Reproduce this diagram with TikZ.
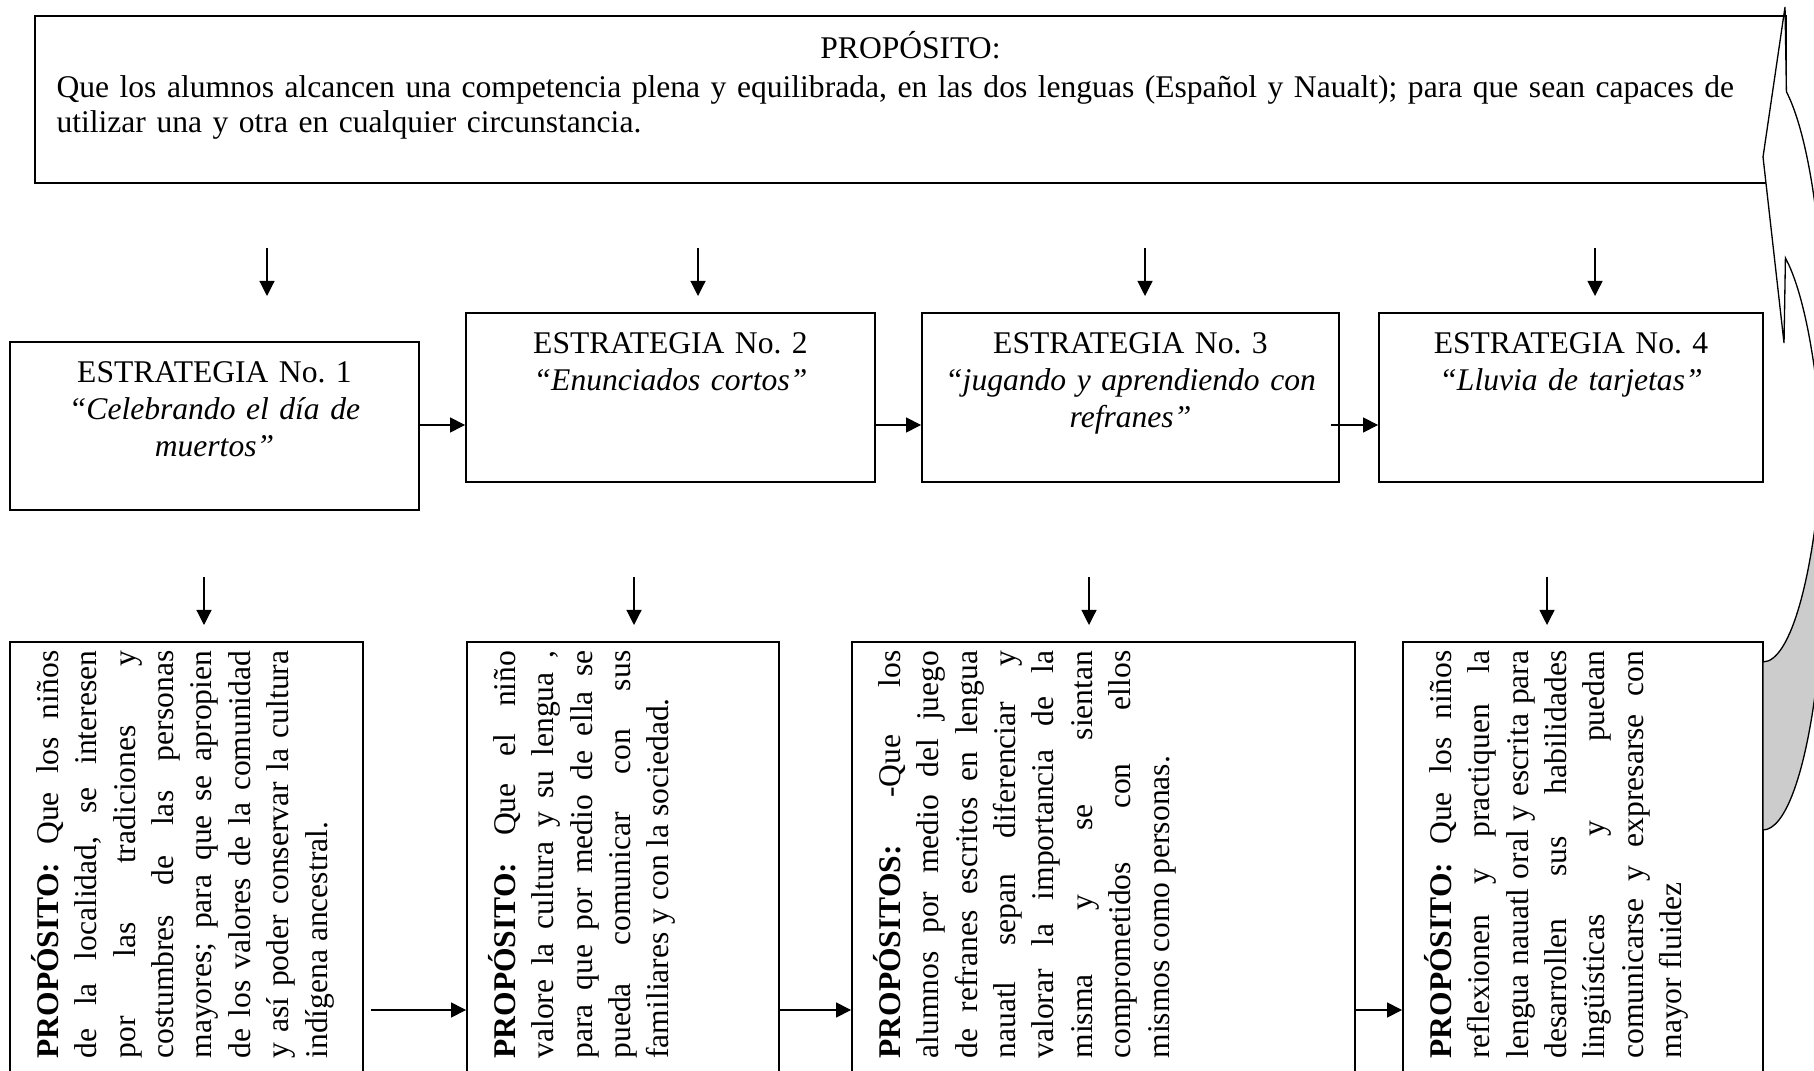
\documentclass[tikz,border=0pt]{standalone}
\usepackage{fontspec}
\setmainfont{Liberation Serif}
\usetikzlibrary{positioning,arrows.meta,calc}
\setlength{\parindent}{0pt}
\frenchspacing
\tolerance=10000 \hbadness=10000 \hyphenpenalty=10000

\begin{document}
\begin{tikzpicture}[x=0.38pt, y=0.38pt, >={Triangle[length=5.7pt,width=5.7pt]},
  caja/.style 2 args={draw, line width=0.7pt, inner sep=0pt, minimum width=#1*0.38pt, minimum height=#2*0.38pt},
  etxt/.style={inner sep=0pt, align=center, text width=146pt, font=\fontsize{12}{14.1}\selectfont},
  ptxt/.style={inner sep=0pt, rotate=90, anchor=north west, text width=155pt, align=justify, font=\fontsize{12}{14.6}\selectfont},
  flecha/.style={->, line width=0.45pt}]
  \useasboundingbox (0,0) rectangle (1814,-1071);
  \clip (0,0) rectangle (1814,-1071);
  % proposito general
  \node[caja={1751}{167}] (prop) at (910.5,-99.5) {};
  \node[inner sep=0pt, text width=649pt, anchor=north west, font=\fontsize{12}{13.3}\selectfont] (propt) at (56,-30.5)
    {\centering PROPÓSITO:\par\vspace{1.5pt}\raggedright Que los alumnos alcancen una competencia plena y equilibrada, en las dos lenguas (Español y Naualt); para que sean capaces de\newline utilizar una y otra en cualquier circunstancia.};
  % estrategias
  \node[caja={409}{168}] (s1) at (214.5,-426) {};
  \node[caja={409}{169}] (s2) at (670.5,-397.5) {};
  \node[caja={417}{169}] (s3) at (1130.5,-397.5) {};
  \node[caja={384}{169}] (s4) at (1571,-397.5) {};
  \node[etxt, below=7.6pt of s1.north] (s1t) {ESTRATEGIA No. 1\\ \textit{“Celebrando el día de}\\ \textit{muertos”}};
  \node[etxt, below=7.6pt of s2.north] (s2t) {ESTRATEGIA No. 2\\ \textit{“Enunciados cortos”}};
  \node[etxt, below=7.6pt of s3.north] (s3t) {ESTRATEGIA No. 3\\ \textit{“jugando y aprendiendo con}\\ \textit{refranes”}};
  \node[etxt, below=7.6pt of s4.north] (s4t) {ESTRATEGIA No. 4\\ \textit{“Lluvia de tarjetas”}};
  % propositos de cada estrategia
  \node[caja={353}{478}] (p1) at (186.5,-881) {};
  \node[caja={312}{478}] (p2) at (623,-881) {};
  \node[caja={503}{478}] (p3) at (1103.5,-881) {};
  \node[caja={360}{478}] (p4) at (1583,-881) {};
  \node[ptxt] (p1t) at ($(p1.north west)+(21.5,-418)$) {\textbf{PROPÓSITO:} Que los niños\linebreak de la localidad, se interesen\linebreak por las tradiciones y\linebreak costumbres de las personas\linebreak mayores; para que se apropien\linebreak de los valores de la comunidad\linebreak y así poder conservar la cultura\linebreak indígena ancestral.};
  \node[ptxt] (p2t) at ($(p2.north west)+(21.5,-418)$) {\textbf{PROPÓSITO:} Que el niño\linebreak valore la cultura y su lengua ,\linebreak para que por medio de ella se\linebreak pueda comunicar con sus\linebreak familiares y con la sociedad.};
  \node[ptxt] (p3t) at ($(p3.north west)+(21.5,-418)$) {\textbf{PROPÓSITOS:} -Que los\linebreak alumnos por medio del juego\linebreak de refranes escritos en lengua\linebreak nauatl sepan diferenciar y\linebreak valorar la importancia de la\linebreak misma y se sientan\linebreak comprometidos con ellos\linebreak mismos como personas.};
  \node[ptxt] (p4t) at ($(p4.north west)+(21.5,-418)$) {\textbf{PROPÓSITO:} Que los niños\linebreak reflexionen y practiquen la\linebreak lengua nauatl oral y escrita para\linebreak desarrollen sus habilidades\linebreak lingüísticas y puedan\linebreak comunicarse y expresarse con\linebreak mayor fluidez};
  % flechas verticales
  \foreach \x [count=\i] in {267,698,1145,1595}{
    \coordinate (a\i) at (\x,-248);
    \draw[flecha] (a\i) -- ++(0,-48);
  }
  \foreach \x [count=\i] in {204,634,1089,1547}{
    \coordinate (b\i) at (\x,-577);
    \draw[flecha] (b\i) -- ++(0,-48);
  }
  % flechas horizontales
  \coordinate (fila) at (0,-425);
  \coordinate (fila2) at (0,-1010);
  \draw[flecha] (s1.east |- fila) -- (s2.west |- fila);
  \draw[flecha] (s2.east |- fila) -- (s3.west |- fila);
  \draw[flecha] ($(s3.east |- fila)+(-9,0)$) -- (s4.west |- fila);
  \draw[flecha] ($(p1.east |- fila2)+(7,0)$) -- (p2.west |- fila2);
  \draw[flecha] (p2.east |- fila2) -- (p3.west |- fila2);
  \draw[flecha] (p3.east |- fila2) -- (p4.west |- fila2);
  % flecha curva de regreso
  \draw[line width=0.5pt, fill=black!20] (1822.45,-450) arc[start angle=-16.5, end angle=-90, x radius=62, y radius=296]
    -- ++(0,-168) arc[start angle=-90, end angle=16.5, x radius=62, y radius=296] -- cycle;
  \draw[line width=0.5pt, fill=white] (1786.4,-91.9) -- (1785,-7) -- (1763,-157) -- (1784,-343) -- (1785.4,-258)
    arc[start angle=68.8, end angle=16.5, x radius=62, y radius=296]
    arc[start angle=-16.5, end angle=67.8, x radius=62, y radius=296] -- cycle;
\end{tikzpicture}
\end{document}
